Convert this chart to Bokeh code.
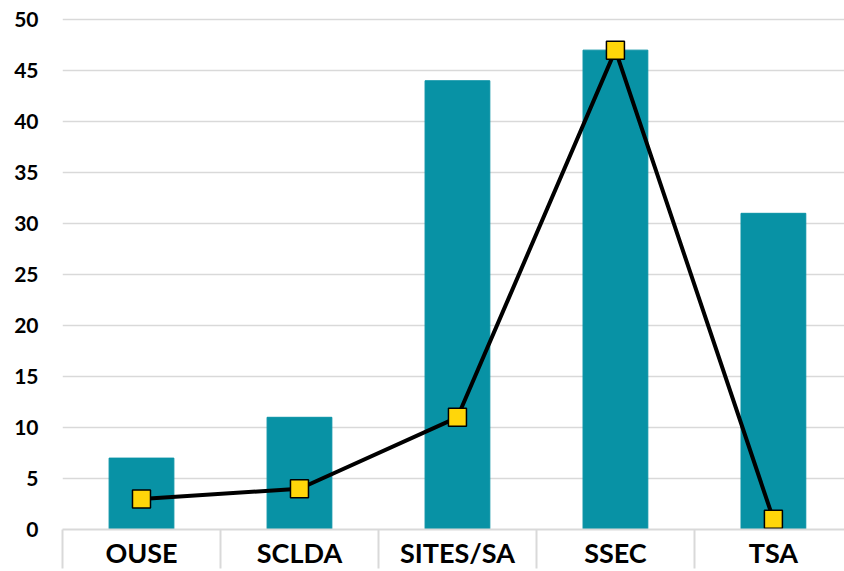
from bokeh.plotting import figure
from bokeh.models import Range1d, FixedTicker, ColumnDataSource
from bokeh.embed import file_html
from bokeh.resources import INLINE

categories = ["OUSE", "SCLDA", "SITES/SA", "SSEC", "TSA"]
bar_values = [7, 11, 44, 47, 31]
line_values = [3, 4, 11, 47, 1]
y_ticks = [0, 5, 10, 15, 20, 25, 30, 35, 40, 45, 50]

xs = [i + 0.5 for i in range(len(categories))]
src = ColumnDataSource(dict(x=xs, bar=bar_values, line=line_values, cat=categories))

p = figure(width=844, height=571, output_backend="svg", toolbar_location=None,
           x_range=Range1d(0, 4.95), y_range=Range1d(0, 50.2),
           min_border_left=62, min_border_right=0, min_border_top=17, min_border_bottom=39)
p.outline_line_color = None
p.background_fill_color = "white"

p.vbar(x="x", top="bar", width=0.41, bottom=0, source=src, color="#0892A5")
p.line(x="x", y="line", source=src, line_color="black", line_width=4)
p.scatter(x="x", y="line", source=src, marker="square", size=18,
          fill_color="#FFD60A", line_color="black", line_width=1.5)

# y axis
p.yaxis.ticker = FixedTicker(ticks=y_ticks)
p.yaxis.axis_line_color = None
p.yaxis.major_tick_line_color = None
p.yaxis.minor_tick_line_color = None
p.yaxis.major_tick_out = 0
p.yaxis.minor_tick_out = 0
p.yaxis.major_label_standoff = 24
p.yaxis.major_label_text_font = "Lato"
p.yaxis.major_label_text_font_style = "bold"
p.yaxis.major_label_text_font_size = "21px"
p.yaxis.major_label_text_color = "black"

p.ygrid.ticker = FixedTicker(ticks=y_ticks)
p.ygrid.grid_line_color = "#D9D9D9"
p.ygrid.grid_line_width = 1.5
p.xgrid.grid_line_color = None

# x axis: labels at centers, separators at boundaries
p.xaxis.ticker = FixedTicker(ticks=xs, minor_ticks=list(range(len(categories) + 1)))
p.xaxis.major_label_overrides = {x: c for x, c in zip(xs, categories)}
p.xaxis.major_tick_line_color = None
p.xaxis.major_tick_out = 0
p.xaxis.major_tick_in = 0
p.xaxis.minor_tick_in = 0
p.xaxis.minor_tick_out = 39
p.xaxis.minor_tick_line_color = "#D9D9D9"
p.xaxis.minor_tick_line_width = 2
p.xaxis.axis_line_color = "#D9D9D9"
p.xaxis.axis_line_width = 2
p.xaxis.major_label_standoff = -33
p.xaxis.major_label_text_font = "Lato"
p.xaxis.major_label_text_font_style = "bold"
p.xaxis.major_label_text_font_size = "27px"
p.xaxis.major_label_text_color = "black"

open("out.html", "w").write(file_html(p, INLINE))
